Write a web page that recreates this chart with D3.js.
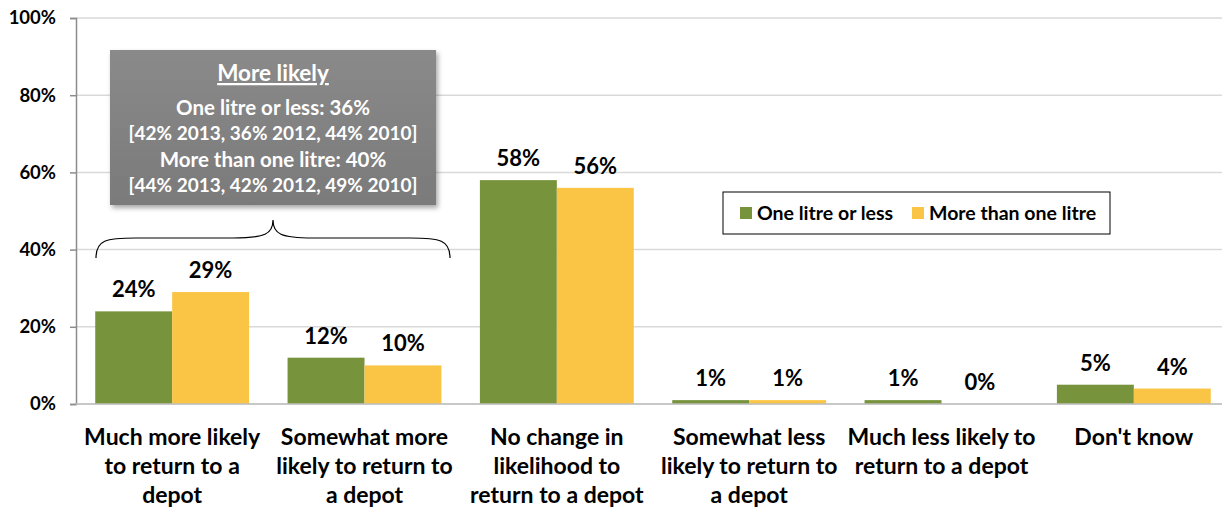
<!DOCTYPE html>
<html>
<head>
<meta charset="utf-8">
<script src="https://cdn.jsdelivr.net/npm/d3@7"></script>
<style>
  body { margin: 0; background: #fff; }
  text { font-family: Lato, "Open Sans", sans-serif; font-weight: bold; }
</style>
</head>
<body>
<svg width="1222" height="508"></svg>
<script>
// 데이터
var categories = [
  ["Much more likely", "to return to a", "depot"],
  ["Somewhat more", "likely to return to", "a depot"],
  ["No change in", "likelihood to", "return to a depot"],
  ["Somewhat less", "likely to return to", "a depot"],
  ["Much less likely to", "return to a depot"],
  ["Don't know"]
];
var seriesNames = ["One litre or less", "More than one litre"];
var oneLitreOrLess = [24, 12, 58, 1, 1, 5];
var moreThanOneLitre = [29, 10, 56, 1, 0, 4];
var yTicks = [0, 20, 40, 60, 80, 100];
var calloutLines = [
  "One litre or less: 36%",
  "[42% 2013, 36% 2012, 44% 2010]",
  "More than one litre: 40%",
  "[44% 2013, 42% 2012, 49% 2010]"
];

var colors = ["#77933c", "#fac545"];

var svg = d3.select("svg"),
    margin = {left: 76, right: -8, top: 18, bottom: 104},
    width = +svg.attr("width") - margin.left - margin.right,
    height = +svg.attr("height") - margin.top - margin.bottom;

var g = svg.append("g").attr("transform", "translate(" + margin.left + "," + margin.top + ")");

var x0 = d3.scaleBand().domain(d3.range(categories.length)).range([0, width]).paddingInner(0).paddingOuter(0);
var x1 = d3.scaleBand().domain([0, 1]).range([x0.bandwidth() * 0.1, x0.bandwidth() * 0.9]);
var y = d3.scaleLinear().domain([0, 100]).range([height, 0]);

// 그리드
g.selectAll(".grid").data(yTicks).enter().append("line")
  .attr("x1", 0).attr("x2", width)
  .attr("y1", function(d) { return y(d); }).attr("y2", function(d) { return y(d); })
  .attr("stroke", "#d9d9d9").attr("stroke-width", 1.5);

// y축
var yAxis = g.append("g")
  .call(d3.axisLeft(y).tickValues(yTicks).tickFormat(function(d) { return d + "%"; }).tickSize(6).tickPadding(14));
yAxis.select(".domain").attr("stroke", "#8c8c8c").attr("stroke-width", 1.5);
yAxis.selectAll(".tick line").attr("stroke", "#8c8c8c").attr("stroke-width", 1.5);
yAxis.selectAll("text").attr("fill", "#000").style("font-size", "18.5px")
  .style("font-family", "Lato, sans-serif").style("font-weight", "bold");

var rows = categories.map(function(c, i) {
  return [oneLitreOrLess[i], moreThanOneLitre[i]];
});

var groups = g.selectAll(".grp").data(rows).enter().append("g")
  .attr("transform", function(d, i) { return "translate(" + x0(i) + ",0)"; });

groups.selectAll("rect").data(function(d) { return d; }).enter().append("rect")
  .attr("x", function(d, j) { return x1(j); })
  .attr("width", x1.bandwidth())
  .attr("y", function(d) { return y(d); })
  .attr("height", function(d) { return height - y(d); })
  .attr("fill", function(d, j) { return colors[j]; });

groups.selectAll(".val").data(function(d) { return d; }).enter().append("text")
  .attr("x", function(d, j) { return x1(j) + x1.bandwidth() / 2; })
  .attr("y", function(d) { return y(d) - 14; })
  .attr("text-anchor", "middle")
  .style("font-size", "22px")
  .text(function(d) { return d + "%"; });

// x축 하단선
g.append("line").attr("x1", 0).attr("x2", width).attr("y1", height).attr("y2", height)
  .attr("stroke", "#bfbfbf").attr("stroke-width", 1.5);

// 카테고리 라벨
groups.append("text")
  .attr("text-anchor", "middle")
  .style("font-size", "23px")
  .selectAll("tspan").data(function(d, i) { return categories[i]; }).enter().append("tspan")
  .attr("x", x0.bandwidth() / 2)
  .attr("y", function(d, k) { return height + 41 + k * 29; })
  .text(function(d) { return d; });

// 범례
var legend = svg.append("g").attr("transform", "translate(723,192)");
legend.append("rect").attr("width", 387).attr("height", 42).attr("fill", "#fff")
  .attr("stroke", "#000").attr("stroke-width", 1);
var li = legend.selectAll(".li").data(seriesNames).enter().append("g")
  .attr("transform", function(d, i) { return "translate(" + (17 + i * 172) + ",21)"; });
li.append("rect").attr("y", -6).attr("width", 12).attr("height", 12)
  .attr("fill", function(d, i) { return colors[i]; });
li.append("text").attr("x", 17).attr("y", 7).style("font-size", "19.5px").text(function(d) { return d; });

// 콜아웃 박스
var defs = svg.append("defs");
var f = defs.append("filter").attr("id", "shadow").attr("x", "-10%").attr("y", "-10%").attr("width", "130%").attr("height", "130%");
f.append("feDropShadow").attr("dx", 2).attr("dy", 3).attr("stdDeviation", 2.5).attr("flood-color", "#000").attr("flood-opacity", 0.35);
var grad = defs.append("linearGradient").attr("id", "boxg").attr("x1", 0).attr("y1", 0).attr("x2", 0).attr("y2", 1);
grad.append("stop").attr("offset", "0%").attr("stop-color", "#8a8a8a");
grad.append("stop").attr("offset", "100%").attr("stop-color", "#7a7a7a");

var cx = 273;
svg.append("rect").attr("x", 110).attr("y", 50).attr("width", 326).attr("height", 155)
  .attr("fill", "url(#boxg)").attr("filter", "url(#shadow)");
svg.append("text").attr("x", cx).attr("y", 81).attr("text-anchor", "middle")
  .attr("fill", "#fff").style("font-size", "22.5px").style("text-decoration", "underline")
  .text("More likely");
svg.append("g").selectAll("text").data(calloutLines).enter().append("text")
  .attr("x", cx)
  .attr("y", function(d, i) { return [115, 140, 167, 192][i]; })
  .attr("text-anchor", "middle").attr("fill", "#fff")
  .style("font-size", function(d, i) { return i % 2 ? "19px" : "20.5px"; })
  .text(function(d) { return d; });

// 중괄호
var bx0 = 96, bx1 = 450, bTop = 238, bBot = 258, tipY = 220, mid = 273;
svg.append("path")
  .attr("d",
    "M" + bx0 + "," + bBot +
    " C" + bx0 + "," + (bTop + 2) + " " + (bx0 + 10) + "," + bTop + " " + (bx0 + 40) + "," + bTop +
    " L" + (mid - 40) + "," + bTop +
    " C" + (mid - 8) + "," + bTop + " " + mid + "," + (bTop - 4) + " " + mid + "," + tipY +
    " C" + mid + "," + (bTop - 4) + " " + (mid + 8) + "," + bTop + " " + (mid + 40) + "," + bTop +
    " L" + (bx1 - 40) + "," + bTop +
    " C" + (bx1 - 10) + "," + bTop + " " + bx1 + "," + (bTop + 2) + " " + bx1 + "," + bBot)
  .attr("fill", "none").attr("stroke", "#000").attr("stroke-width", 1.2);
</script>
</body>
</html>
